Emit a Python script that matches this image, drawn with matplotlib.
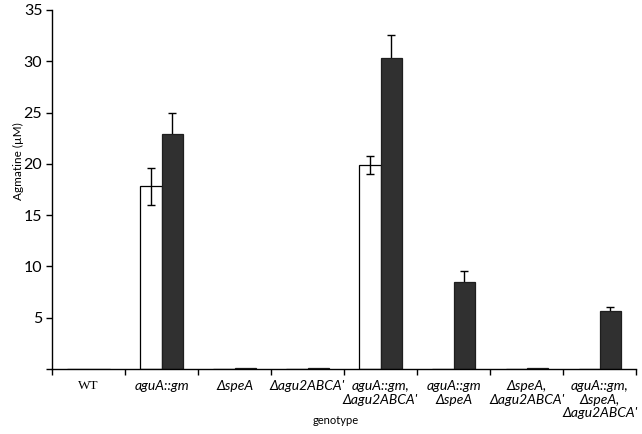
import matplotlib
matplotlib.use("Agg")
import matplotlib.pyplot as plt
import numpy as np

categories = ["WT", "aguA::gm", "ΔspeA", "Δagu2ABCA'", "aguA::gm,\nΔagu2ABCA'",
              "aguA::gm\nΔspeA", "ΔspeA,\nΔagu2ABCA'", "aguA::gm,\nΔspeA,\nΔagu2ABCA'"]
white_vals = [0, 17.8, 0, 0, 19.9, 0, 0, 0]
white_err = [0, 1.8, 0, 0, 0.9, 0, 0, 0]
dark_vals = [0, 22.9, 0.1, 0.1, 30.3, 8.45, 0.1, 5.65]
dark_err = [0, 2.1, 0, 0, 2.3, 1.1, 0, 0.4]
yticks = [5, 10, 15, 20, 25, 30, 35]

fig = plt.figure(figsize=(6.42, 4.34), dpi=100)
ax = fig.add_axes([0.081, 0.150, 0.910, 0.827])

n = len(categories)
x = np.arange(n) + 0.5
w = 0.29
ax.bar(x - w / 2, white_vals, width=w, color="white", edgecolor="black", linewidth=0.9, zorder=2)
ax.bar(x + w / 2, dark_vals, width=w, color="#303030", edgecolor="#1e1e1e", linewidth=0.9, zorder=2)
for xi, v, e in zip(x - w / 2, white_vals, white_err):
    if e > 0:
        ax.errorbar(xi, v, yerr=e, fmt="none", ecolor="black", elinewidth=1.0, capsize=3, capthick=1.0, zorder=3)
for xi, v, e in zip(x + w / 2, dark_vals, dark_err):
    if e > 0:
        ax.errorbar(xi, v, yerr=e, fmt="none", ecolor="black", elinewidth=1.0, capsize=3, capthick=1.0, zorder=1)

ax.set_xlim(0, n)
ax.set_ylim(0, 35)
for s in ["top", "right"]:
    ax.spines[s].set_visible(False)
for s in ["left", "bottom"]:
    ax.spines[s].set_linewidth(1.0)

ax.set_yticks([0] + yticks)
ax.set_yticklabels([""] + [str(t) for t in yticks], fontfamily="Lato", fontsize=11.5)
ax.tick_params(axis="y", direction="out", length=4, width=1.0, pad=3)

ax.set_xticks(np.arange(n + 1))
ax.set_xticklabels([])
ax.tick_params(axis="x", which="major", direction="out", length=4, width=1.0)
ax.set_xticks(x, minor=True)
ax.set_xticklabels(categories, minor=True, fontsize=10, fontfamily="Lato", style="italic",
                   linespacing=1.15, va="top")
ax.tick_params(axis="x", which="minor", length=0, pad=8)
for lbl in ax.get_xticklabels(minor=True):
    if lbl.get_text() == "WT":
        lbl.set_fontfamily("Liberation Serif")
        lbl.set_style("normal")
        lbl.set_fontsize(9.5)

ax.set_ylabel("Agmatine (µM)", fontfamily="Lato", fontsize=8.5)
ax.yaxis.set_label_coords(-0.048, 0.58)
ax.set_xlabel("genotype", fontfamily="Lato", fontsize=8)
ax.xaxis.set_label_coords(0.485, -0.128)

fig.savefig("out.png", dpi=100)
